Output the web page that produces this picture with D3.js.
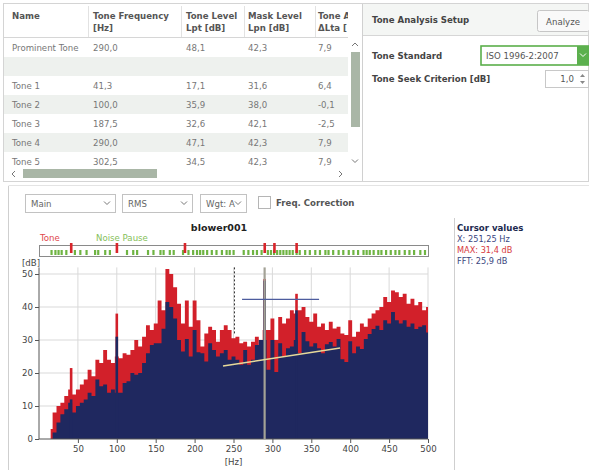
<!DOCTYPE html>
<html>
<head>
<meta charset="utf-8">
<script src="https://cdn.jsdelivr.net/npm/d3@7"></script>
<style>
  body { margin: 0; background: #fff; }
  text { font-family: "DejaVu Sans", Verdana, sans-serif; }
</style>
</head>
<body>
<div id="viz"></div>
<script>
// ---- tone table
const colHead1 = ["Name", "Tone Frequency", "Tone Level", "Mask Level", "Tone A"];
const colHead2 = ["", "[Hz]", "Lpt [dB]", "Lpn [dB]", "ΔLta ["];
const rowNames = ["Prominent Tone", "", "Tone 1", "Tone 2", "Tone 3", "Tone 4", "Tone 5"];
const toneFreq = ["290,0", "", "41,3", "100,0", "187,5", "290,0", "302,5"];
const toneLevel = ["48,1", "", "17,1", "35,9", "32,6", "47,1", "34,5"];
const maskLevel = ["42,3", "", "31,6", "38,0", "42,1", "42,3", "42,3"];
const deltaLta = ["7,9", "", "6,4", "-0,1", "-2,5", "7,9", "7,9"];

// ---- spectrum (5 Hz bins)
const binFreq = [15, 20, 25, 30, 35, 40, 45, 50, 55, 60, 65, 70, 75, 80, 85, 90, 95, 100,
  105, 110, 115, 120, 125, 130, 135, 140, 145, 150, 155, 160, 165, 170, 175, 180, 185, 190,
  195, 200, 205, 210, 215, 220, 225, 230, 235, 240, 245, 250, 255, 260, 265, 270, 275, 280,
  285, 290, 295, 300, 305, 310, 315, 320, 325, 330, 335, 340, 345, 350, 355, 360, 365, 370,
  375, 380, 385, 390, 395, 400, 405, 410, 415, 420, 425, 430, 435, 440, 445, 450, 455, 460,
  465, 470, 475, 480, 485, 490, 495, 500];
const maxDb = [3, 8, 10, 11, 13, 15, 13.5, 15, 16.5, 18, 21, 19, 24, 23, 27, 24, 23, 25,
  24.5, 26, 25.5, 27, 30, 28, 31, 34.5, 33, 35, 42, 39, 51.5, 50, 46, 41, 35, 42,
  34, 42, 36, 28, 32, 34, 33, 29.5, 33, 34.5, 33, 30.5, 31, 29, 29.5, 28, 29.5, 31,
  28.5, 33, 33, 36.5, 30, 37, 35, 36.5, 39, 38, 39, 40, 37, 35.5, 38, 34, 35, 33,
  35.5, 33.5, 34, 32, 31.5, 36, 31, 32.5, 35, 34, 36.5, 38, 39, 40, 43, 41.5, 45, 44.5,
  43, 44, 41, 42.5, 40.5, 41.5, 39, 40];
const fftDb = [0, 2, 5, 7.5, 9, 11, 8, 10, 11, 12, 14, 13, 18, 16, 16.5, 14, 15, 14,
  14, 17, 17.5, 20, 19.5, 20, 23, 26, 28.5, 29, 29, 33.4, 41.5, 40, 36.5, 30, 26.5, 30.3,
  25, 33, 26.3, 26, 23.5, 29, 27, 25, 26, 27, 24, 25, 24, 22.5, 27, 22.5, 24, 28.5,
  30, 30, 21, 30, 20.3, 29, 25, 27.5, 28, 30, 26, 32.4, 29.6, 28, 29, 27.5, 26, 28.7,
  29.4, 28, 30.3, 24.2, 23.3, 29.6, 26, 28, 27.3, 30.3, 31.8, 33.3, 34.3, 33, 36, 35, 38.5, 36,
  35, 36, 34, 35, 33.3, 34, 34.5, 32.3];
// narrow tonal peaks
const spikeFreq = [41.3, 100, 290, 331];
const spikeMax = [21.5, 38, 48.5, 44];
const spikeFft = [12, 31, 48, 39];

// strip markers
const toneMarks = [41.3, 100, 187.5, 290, 302.5, 331];
const pauseMarks = [16, 21, 25, 29, 35, 46, 53, 61, 72, 76, 85, 91, 113, 121, 126, 140, 147,
  156, 160, 168, 173, 185, 192, 198, 203, 207, 211, 216, 222, 228, 235, 241, 245, 250, 263,
  269, 275, 280, 286, 294, 298, 302, 306, 310, 314, 318, 322, 326, 331, 335, 342, 348, 355,
  361, 368, 372, 378, 385, 391, 398, 404, 410, 417, 421, 425, 430, 436, 440, 446, 452, 458,
  463, 470, 476, 482, 490, 496];

// cursor
const cursorFreq = 251.25;
const cursorMax = 31.4;
const cursorFft = 25.9;
const promFreq = 290;
const maskBand = [261, 360];
const maskDb = 42.3;
const seekLine = [[236.5, 22.1], [387, 27.6]];

const xTicks = [50, 100, 150, 200, 250, 300, 350, 400, 450, 500];
const yTicks = [0, 10, 20, 30, 40, 50];

const W = 589, H = 470;
const RED = "#d2202a", NAVY = "#1f285f";

const svg = d3.select("#viz").append("svg")
  .attr("width", W).attr("height", H).style("display", "block");
svg.append("rect").attr("width", W).attr("height", H).attr("fill", "#fff");

function chevron(g, cx, cy, color) {
  g.append("path")
    .attr("d", `M${cx - 3},${cy - 1.5}L${cx},${cy + 1.5}L${cx + 3},${cy - 1.5}`)
    .attr("fill", "none").attr("stroke", color || "#777").attr("stroke-width", 1);
}

// ================= top table =================
const upper = svg.append("g");
upper.append("rect").attr("x", 3.5).attr("y", 3.5).attr("width", 585).attr("height", 178)
  .attr("fill", "none").attr("stroke", "#d4d4d4");

const colX = [12, 93, 186, 248, 318];
const colSep = [88, 181, 244, 315];
const rowY = d3.scaleBand().domain(d3.range(rowNames.length)).range([38, 171]);

svg.append("clipPath").attr("id", "tblClip")
  .append("rect").attr("x", 4).attr("y", 4).attr("width", 344).attr("height", 178);
const tbl = upper.append("g").attr("clip-path", "url(#tblClip)");

tbl.selectAll("rect.row").data(rowNames).join("rect")
  .attr("x", 4).attr("width", 344)
  .attr("y", (d, i) => rowY(i)).attr("height", rowY.bandwidth())
  .attr("fill", (d, i) => i % 2 ? "#eef1ee" : "#fff");

tbl.append("line").attr("x1", 4).attr("x2", 360).attr("y1", 37.5).attr("y2", 37.5)
  .attr("stroke", "#d6d6d6");
tbl.selectAll("line.sep").data(colSep).join("line")
  .attr("x1", d => d + 0.5).attr("x2", d => d + 0.5).attr("y1", 6).attr("y2", 37)
  .attr("stroke", "#e2e2e2");

const head = tbl.selectAll("g.head").data(colHead1).join("g")
  .attr("transform", (d, i) => `translate(${colX[i]},0)`);
head.append("text").attr("y", 19).text(d => d)
  .attr("font-size", 8.6).attr("font-weight", "bold").attr("fill", "#555");
head.append("text").attr("y", 31).text((d, i) => colHead2[i])
  .attr("font-size", 8.6).attr("font-weight", "bold").attr("fill", "#555");

const cols = [rowNames, toneFreq, toneLevel, maskLevel, deltaLta];
cols.forEach((col, c) => {
  tbl.selectAll(`text.c${c}`).data(col).join("text")
    .attr("class", `c${c}`)
    .attr("x", colX[c]).attr("y", (d, i) => rowY(i) + rowY.bandwidth() / 2 + 3)
    .attr("font-size", 8.6).attr("fill", "#777").text(d => d);
});

// scrollbars
upper.append("rect").attr("x", 351).attr("y", 52).attr("width", 9).attr("height", 75)
  .attr("fill", "#a9b6a6");
upper.append("path").attr("d", "M352,46L355,43L358,46").attr("fill", "none").attr("stroke", "#777");
chevron(upper, 355, 161);
upper.append("rect").attr("x", 23).attr("y", 169).attr("width", 134).attr("height", 9)
  .attr("fill", "#a9b6a6");
upper.append("path").attr("d", "M15,171L12,174L15,177").attr("fill", "none").attr("stroke", "#777");
upper.append("path").attr("d", "M339,171L342,174L339,177").attr("fill", "none").attr("stroke", "#777");

// right panel: Tone Analysis Setup
upper.append("rect").attr("x", 363).attr("y", 4).attr("width", 225).attr("height", 31)
  .attr("fill", "#f4f6f4");
upper.append("line").attr("x1", 363).attr("x2", 588).attr("y1", 35.5).attr("y2", 35.5)
  .attr("stroke", "#d6d6d6");
upper.append("line").attr("x1", 362.5).attr("x2", 362.5).attr("y1", 4).attr("y2", 181)
  .attr("stroke", "#d0d0d0");
upper.append("text").attr("x", 372).attr("y", 23).text("Tone Analysis Setup")
  .attr("font-size", 8.6).attr("font-weight", "bold").attr("fill", "#444");
upper.append("rect").attr("x", 537.5).attr("y", 10.5).attr("width", 52).attr("height", 21).attr("rx", 2)
  .attr("fill", "#f9f9f9").attr("stroke", "#c6c6c6");
upper.append("text").attr("x", 563).attr("y", 24.5).attr("text-anchor", "middle").text("Analyze")
  .attr("font-size", 8.6).attr("fill", "#555");

upper.append("text").attr("x", 372).attr("y", 59).text("Tone Standard")
  .attr("font-size", 8.6).attr("font-weight", "bold").attr("fill", "#444");
upper.append("rect").attr("x", 481).attr("y", 46).attr("width", 108).attr("height", 19)
  .attr("fill", "#fff").attr("stroke", "#5aae4a").attr("stroke-width", 1.6);
upper.append("rect").attr("x", 577).attr("y", 46).attr("width", 12).attr("height", 19)
  .attr("fill", "#5cb04e");
chevron(upper, 583, 55, "#fff");
upper.append("text").attr("x", 486).attr("y", 59).text("ISO 1996-2:2007")
  .attr("font-size", 8.6).attr("fill", "#555");

upper.append("text").attr("x", 372).attr("y", 82).text("Tone Seek Criterion [dB]")
  .attr("font-size", 8.6).attr("font-weight", "bold").attr("fill", "#444");
upper.append("rect").attr("x", 545.5).attr("y", 70.5).attr("width", 43).attr("height", 17)
  .attr("fill", "#fff").attr("stroke", "#c8c8c8");
upper.append("text").attr("x", 574).attr("y", 82).attr("text-anchor", "end").text("1,0")
  .attr("font-size", 8.6).attr("fill", "#555");
upper.append("path").attr("d", "M580,77L582.5,74L585,77").attr("fill", "#888");
upper.append("path").attr("d", "M580,81L582.5,84L585,81").attr("fill", "#888");

// ================= chart section =================
const bot = svg.append("g");
bot.append("line").attr("x1", 8.5).attr("x2", 8.5).attr("y1", 186).attr("y2", H)
  .attr("stroke", "#cfcfcf");
bot.append("line").attr("x1", 8.5).attr("x2", W).attr("y1", 185.5).attr("y2", 185.5)
  .attr("stroke", "#e4e4e4");

const combos = [["Main", 25, 115], ["RMS", 122, 192], ["Wgt: A", 200, 246]];
combos.forEach(([label, x0, x1]) => {
  bot.append("rect").attr("x", x0 + 0.5).attr("y", 194.5).attr("width", x1 - x0).attr("height", 18)
    .attr("fill", "#fff").attr("stroke", "#c2c2c2");
  bot.append("text").attr("x", x0 + 6).attr("y", 207).text(label)
    .attr("font-size", 8.6).attr("fill", "#666");
  chevron(bot, x1 - 8, 203);
});
bot.append("rect").attr("x", 258.5).attr("y", 196.5).attr("width", 12).attr("height", 12)
  .attr("fill", "#fff").attr("stroke", "#b5b5b5");
bot.append("text").attr("x", 276).attr("y", 206).text("Freq. Correction")
  .attr("font-size", 8.6).attr("font-weight", "bold").attr("fill", "#555");

bot.append("text").attr("x", 219).attr("y", 231).attr("text-anchor", "middle").text("blower001")
  .attr("font-size", 9.5).attr("font-weight", "bold").attr("fill", "#222");
bot.append("text").attr("x", 40).attr("y", 241).text("Tone")
  .attr("font-size", 8.6).attr("fill", "#e0474c");
bot.append("text").attr("x", 96).attr("y", 241).text("Noise Pause")
  .attr("font-size", 8.6).attr("fill", "#86c05a");

// cursor panel
bot.append("line").attr("x1", 454.5).attr("x2", 454.5).attr("y1", 218).attr("y2", H)
  .attr("stroke", "#cfcfcf");
bot.append("text").attr("x", 457).attr("y", 231).text("Cursor values")
  .attr("font-size", 8.6).attr("font-weight", "bold").attr("fill", "#1d2a4f");
bot.append("text").attr("x", 457).attr("y", 242).text("X: 251,25 Hz")
  .attr("font-size", 8.2).attr("fill", "#3a4680");
bot.append("text").attr("x", 457).attr("y", 253).text(`MAX: ${String(cursorMax).replace(".", ",")} dB`)
  .attr("font-size", 8.2).attr("fill", "#d6383e");
bot.append("text").attr("x", 457).attr("y", 264).text(`FFT: ${String(cursorFft).replace(".", ",")} dB`)
  .attr("font-size", 8.2).attr("fill", "#3a4680");

// scales
const x = d3.scaleLinear().domain([0, 500]).range([39, 428]);
const y = d3.scaleLinear().domain([0, 52]).range([439, 267.4]);

// strip
bot.append("rect").attr("x", x(0) + 0.5).attr("y", 245.5).attr("width", x(500) - x(0)).attr("height", 11)
  .attr("fill", "#fff").attr("stroke", "#8a8a8a");
bot.selectAll("rect.pause").data(pauseMarks).join("rect")
  .attr("class", "pause")
  .attr("x", d => x(d) - 1).attr("y", 250).attr("width", 2.2).attr("height", 5)
  .attr("fill", "#6fb443");
bot.selectAll("rect.tone").data(toneMarks).join("rect")
  .attr("class", "tone")
  .attr("x", d => x(d) - 1.2).attr("y", 243).attr("width", 2.6).attr("height", 10)
  .attr("fill", "#d8262c");

// grid
const plot = bot.append("g");
plot.selectAll("line.gx").data(xTicks).join("line")
  .attr("class", "gx")
  .attr("x1", d => x(d)).attr("x2", d => x(d)).attr("y1", y(52)).attr("y2", y(0))
  .attr("stroke", "#d9d9d9");
plot.selectAll("line.gy").data(yTicks.slice(1)).join("line")
  .attr("class", "gy")
  .attr("x1", x(0)).attr("x2", x(500)).attr("y1", d => y(d)).attr("y2", d => y(d))
  .attr("stroke", "#d9d9d9");

// spectrum areas
const bins = binFreq.map((f, i) => ({ f, max: maxDb[i], fft: fftDb[i] }));
const area = key => d3.area()
  .x(d => x(d.f)).y0(y(0)).y1(d => y(d[key]))
  .curve(d3.curveStep);
plot.append("path").datum(bins).attr("d", area("max")).attr("fill", RED);
plot.selectAll("rect.smax").data(spikeFreq).join("rect")
  .attr("class", "smax")
  .attr("x", d => x(d) - 1.3).attr("width", 2.6)
  .attr("y", (d, i) => y(spikeMax[i])).attr("height", (d, i) => y(0) - y(spikeMax[i]))
  .attr("fill", RED);
plot.append("path").datum(bins).attr("d", area("fft")).attr("fill", NAVY);
plot.selectAll("rect.sfft").data(spikeFreq).join("rect")
  .attr("class", "sfft")
  .attr("x", d => x(d) - 1.3).attr("width", 2.6)
  .attr("y", (d, i) => y(spikeFft[i])).attr("height", (d, i) => y(0) - y(spikeFft[i]))
  .attr("fill", NAVY);

// axes
const gx = plot.append("g").attr("transform", `translate(0,${y(0)})`)
  .call(d3.axisBottom(x).tickValues(xTicks).tickSize(4).tickPadding(3));
const gy = plot.append("g").attr("transform", `translate(${x(0)},0)`)
  .call(d3.axisLeft(y).tickValues(yTicks).tickSize(4).tickPadding(2));
[gx, gy].forEach(g => {
  g.select(".domain").attr("stroke", "#555");
  g.selectAll(".tick line").attr("stroke", "#555");
  g.selectAll(".tick text").attr("font-size", 8.6).attr("fill", "#444")
    .attr("font-family", "DejaVu Sans, Verdana, sans-serif");
});
gy.select(".domain").attr("d", `M0,${y(52)}V${y(0)}`);
gx.select(".domain").attr("d", `M${x(0)},0H${x(500)}`);
bot.append("text").attr("x", 22).attr("y", 266).text("[dB]").attr("font-size", 8.6).attr("fill", "#444");
bot.append("text").attr("x", x(250)).attr("y", 465).attr("text-anchor", "middle").text("[Hz]")
  .attr("font-size", 8.6).attr("fill", "#444");

// cursor overlays
plot.append("line").attr("x1", x(promFreq)).attr("x2", x(promFreq))
  .attr("y1", y(52)).attr("y2", y(0))
  .attr("stroke", "#a3a296").attr("stroke-width", 2.2);
plot.append("line").attr("x1", x(maskBand[0])).attr("x2", x(maskBand[1]))
  .attr("y1", y(maskDb)).attr("y2", y(maskDb))
  .attr("stroke", "#4d5c9e").attr("stroke-width", 1.2);
plot.append("line")
  .attr("x1", x(seekLine[0][0])).attr("y1", y(seekLine[0][1]))
  .attr("x2", x(seekLine[1][0])).attr("y2", y(seekLine[1][1]))
  .attr("stroke", "#e6d99a").attr("stroke-width", 1.5);
plot.append("line").attr("x1", x(cursorFreq)).attr("x2", x(cursorFreq))
  .attr("y1", y(52)).attr("y2", y(cursorMax))
  .attr("stroke", "#333").attr("stroke-width", 1).attr("stroke-dasharray", "2,2");
</script>
</body>
</html>
